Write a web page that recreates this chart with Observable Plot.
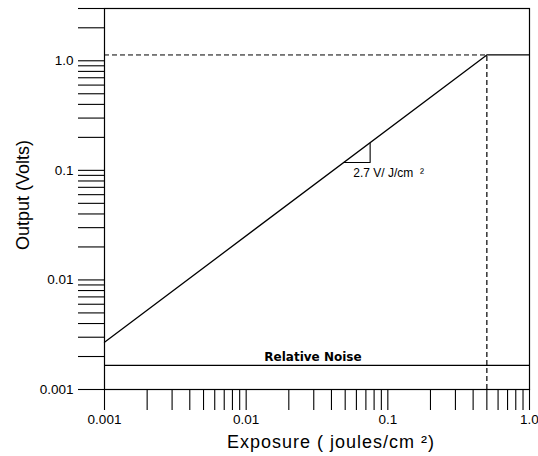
<!DOCTYPE html>
<html>
<head>
<meta charset="utf-8">
<script src="https://cdn.jsdelivr.net/npm/d3@7"></script>
<script src="https://cdn.jsdelivr.net/npm/@observablehq/plot@0.6"></script>
<style>
  html, body { margin: 0; padding: 0; background: #fff; }
  svg { display: block; }
</style>
</head>
<body>
<div id="chart"></div>
<script>
// ---- data ----
const responseX = [0.001, 0.5, 1.0];          // exposure (J/cm^2)
const responseY = [0.0027, 1.13, 1.13];       // output (V)
const kneeX = 0.5;                             // saturation exposure (labelled 0.47)
const kneeY = 1.13;                            // saturation output
const noiseLevel = 0.00166;                    // relative noise (V)
const slopeTriX = [0.049, 0.075, 0.075];       // slope triangle
const slopeTriY = [0.118, 0.118, 0.177];
const slopeLabel = "2.7 V/ J/cm\u00a0\u00a0\u00b2";
const noiseLabel = "Relative Noise";
const xTitle = "Exposure ( joules/cm \u00b2)";
const yTitle = "Output (Volts)";

const xMajor = [0.001, 0.01, 0.1, 0.5, 1];
const xMajorLabels = ["0.001", "0.01", "0.1", "0.47", "1.0"];
const yMajor = [0.001, 0.01, 0.1, 1];
const yMajorLabels = ["0.001", "0.01", "0.1", "1.0"];
const minorMultipliers = [1, 2, 3, 4, 5, 6, 7, 8, 9];

const xTicks = [0.001, 0.01, 0.1].flatMap(d => minorMultipliers.map(m => +(m * d).toPrecision(3))).concat([1]);
const yTicks = [0.001, 0.01, 0.1, 1].flatMap(d => minorMultipliers.map(m => +(m * d).toPrecision(3))).filter(v => v <= 3);

const xFmt = v => { const i = xMajor.findIndex(t => Math.abs(t - v) / t < 1e-6); return i >= 0 ? xMajorLabels[i] : ""; };
const yFmt = v => { const i = yMajor.findIndex(t => Math.abs(t - v) / t < 1e-6); return i >= 0 ? yMajorLabels[i] : ""; };

const font = "'Liberation Sans', Arial, Helvetica, sans-serif";

const chart = Plot.plot({
  width: 538,
  height: 456,
  marginLeft: 104,
  marginRight: 9,
  marginTop: 8,
  marginBottom: 67,
  style: { fontFamily: font, fontSize: "13.5px", color: "#000", background: "#fff" },
  x: { type: "log", domain: [0.001, 1] },
  y: { type: "log", domain: [0.001, 3] },
  marks: [
    Plot.frame({ stroke: "#000", strokeWidth: 1.2 }),
    Plot.axisY({ ticks: yTicks, tickSize: 26, tickPadding: 5, tickFormat: yFmt, stroke: "#000", strokeWidth: 1.1,
      label: null, fontSize: 13.5 }),
    Plot.axisX({ ticks: xTicks, tickSize: 21, tickPadding: 4, tickFormat: xFmt, stroke: "#000", strokeWidth: 1.1,
      label: null, fontSize: 13.5 }),
    Plot.text([yTitle], { frameAnchor: "left", text: d => d, rotate: -90, textAnchor: "middle", lineAnchor: "middle",
      dx: -81, dy: -4, fontSize: 18, fill: "#000" }),
    Plot.text([xTitle], { frameAnchor: "bottom", text: d => d, textAnchor: "middle", lineAnchor: "middle",
      dx: 14, dy: 53, fontSize: 18, fill: "#000" }),
    Plot.ruleY([noiseLevel], { stroke: "#000", strokeWidth: 1.1 }),
    Plot.text([noiseLabel], { x: [0.0296], y: [noiseLevel], text: d => d, dy: -4, lineAnchor: "bottom",
      fontFamily: "'DejaVu Sans', sans-serif", fontWeight: "bold", fontSize: 12, fill: "#000" }),
    Plot.ruleY([kneeY], { x1: 0.001, x2: kneeX, stroke: "#000", strokeWidth: 1, strokeDasharray: "5,3" }),
    Plot.ruleX([kneeX], { y1: 0.001, y2: kneeY, stroke: "#000", strokeWidth: 1.2, strokeDasharray: "5,3" }),
    Plot.line(responseX.map((x, i) => ({ x, y: responseY[i] })), { x: "x", y: "y", stroke: "#000", strokeWidth: 1.3 }),
    Plot.line(slopeTriX.map((x, i) => ({ x, y: slopeTriY[i] })), { x: "x", y: "y", stroke: "#000", strokeWidth: 1.1 }),
    Plot.text([slopeLabel], { x: [0.057], y: [0.0935], text: d => d, textAnchor: "start", fontSize: 12, fill: "#000" })
  ]
});

// widen the x-axis title a little to match the reference's letter spacing
d3.select(chart).selectAll("text").filter(function () { return this.textContent === xTitle; })
  .style("letter-spacing", "1px");

document.getElementById("chart").appendChild(chart);
</script>
</body>
</html>
